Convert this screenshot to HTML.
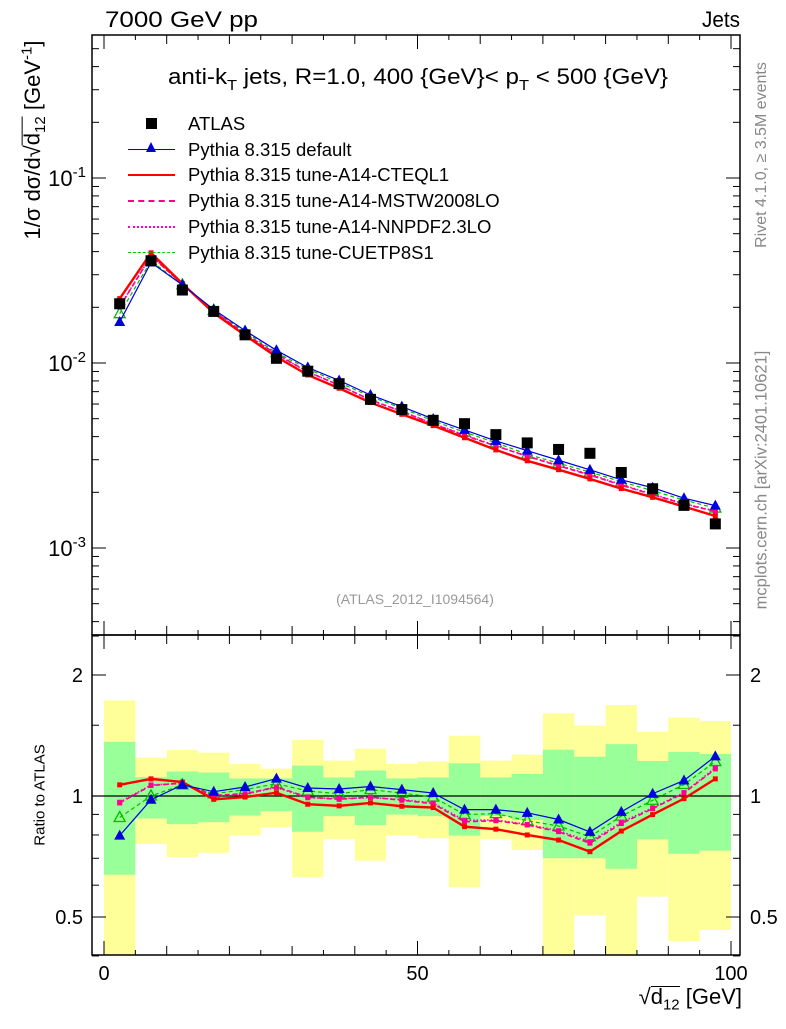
<!DOCTYPE html>
<html><head><meta charset="utf-8"><style>
body{margin:0;background:#fff;}
svg text{font-family:"Liberation Sans",sans-serif;}
</style></head><body>
<svg id="c" width="786" height="1024" xmlns="http://www.w3.org/2000/svg"></svg>
<script>
const binCenters=[2.5,7.5,12.5,17.5,22.5,27.5,32.5,37.5,42.5,47.5,52.5,57.5,62.5,67.5,72.5,77.5,82.5,87.5,92.5,97.5];
const atlas=[0.0209,0.0357,0.0248,0.0190,0.0142,0.0106,0.00903,0.00773,0.00636,0.00560,0.00490,0.00470,0.00410,0.00370,0.00341,0.00325,0.00256,0.00209,0.00170,0.00135];
const rDefault=[0.797,0.979,1.066,1.025,1.053,1.105,1.047,1.041,1.056,1.037,1.017,0.925,0.925,0.908,0.874,0.814,0.913,1.013,1.093,1.255];
const rCTEQ=[1.066,1.103,1.083,0.981,0.994,1.019,0.954,0.945,0.961,0.943,0.936,0.839,0.827,0.800,0.777,0.727,0.818,0.899,0.985,1.103];
const rMSTW=[0.961,1.062,1.077,1.004,1.013,1.053,0.994,0.981,0.994,0.976,0.957,0.863,0.868,0.847,0.815,0.763,0.854,0.930,1.017,1.168];
const rNNPDF=[0.965,1.065,1.075,1.0,1.01,1.05,0.99,0.985,0.99,0.98,0.96,0.87,0.872,0.85,0.82,0.77,0.86,0.935,1.02,1.175];
const rCUETP=[0.884,1.0,1.066,1.013,1.037,1.073,1.029,1.013,1.037,1.017,0.994,0.899,0.904,0.868,0.842,0.792,0.891,0.976,1.068,1.218];
const yelHi=[1.729,1.246,1.301,1.282,1.202,1.170,1.380,1.225,1.311,1.202,1.218,1.412,1.225,1.267,1.606,1.497,1.684,1.444,1.567,1.537];
const yelLo=[0.3,0.760,0.704,0.722,0.797,0.837,0.628,0.782,0.690,0.800,0.785,0.593,0.782,0.734,0.3,0.505,0.3,0.562,0.436,0.464];
const grnHi=[1.364,1.114,1.151,1.144,1.106,1.106,1.190,1.112,1.157,1.106,1.112,1.206,1.112,1.135,1.304,1.253,1.346,1.222,1.287,1.272];
const grnLo=[0.637,0.879,0.851,0.861,0.894,0.917,0.815,0.891,0.847,0.899,0.891,0.797,0.891,0.871,0.700,0.700,0.659,0.780,0.718,0.731];
const binHalf=2.5;

const NS="http://www.w3.org/2000/svg";
const svg=document.getElementById('c');
function mk(tag,attrs,parent){const e=document.createElementNS(NS,tag);for(const k in attrs)e.setAttribute(k,attrs[k]);(parent||svg).appendChild(e);return e;}
const L=92,R=740,T=35,M=635,B=955;
const X=v=>104+(731-104)*v/100;
const Y=v=>178-(Math.log10(v)+1)*185;
const YR=r=>796-Math.log2(r)*121;
const cl=(v,a,b)=>Math.max(a,Math.min(b,v));

const gb=mk('g',{});


binCenters.forEach((c,i)=>{
  const x0=X(c-binHalf),x1=X(c+binHalf);
  const y1=cl(YR(yelHi[i]),M,B),y2=cl(YR(yelLo[i]),M,B);
  const r=mk('rect',{x:x0,y:y1,width:x1-x0,height:y2-y1,fill:'#ffff99'},gb);
  
  
});
binCenters.forEach((c,i)=>{
  const x0=X(c-binHalf),x1=X(c+binHalf);
  const y1=cl(YR(grnHi[i]),M,B),y2=cl(YR(grnLo[i]),M,B);
  const r=mk('rect',{x:x0,y:y1,width:x1-x0,height:y2-y1,fill:'#99ff99'},gb);
  
  
});
mk('line',{x1:L,x2:R,y1:YR(1),y2:YR(1),stroke:'#000','stroke-width':1.2});

const series=[
 {n:'cuetp8s1',r:rCUETP,c:'#00bb00',w:1.2,d:'4,3',m:'otri'},
 {n:'nnpdf',r:rNNPDF,c:'#ff00cc',w:1.6,d:'1.5,2',m:'sq'},
 {n:'mstw',r:rMSTW,c:'#ff0088',w:1.6,d:'5,3',m:'sq'},
 {n:'cteql1',r:rCTEQ,c:'#ff0000',w:2.4,d:'',m:'sq'},
 {n:'default',r:rDefault,c:'#0000dd',w:1.2,d:'',m:'tri'}
];
function marker(g,type,x,y,c,name){
  let e;
  if(type==='tri') e=mk('polygon',{points:`${x},${y-6} ${x-5.5},${y+4} ${x+5.5},${y+4}`,fill:c},g);
  else if(type==='otri') e=mk('polygon',{points:`${x},${y-6} ${x-5.5},${y+4} ${x+5.5},${y+4}`,fill:'none',stroke:c,'stroke-width':1.3},g);
  else e=mk('rect',{x:x-2.5,y:y-2.5,width:5,height:5,fill:c},g);
  
  
}
function drawSeries(s,panel){
  const g=mk('g',{});
  
  
  const pts=binCenters.map((c,i)=>[X(c),panel==='main'?Y(atlas[i]*s.r[i]):YR(s.r[i])]);
  mk('polyline',{points:pts.map(p=>p.join(',')).join(' '),fill:'none',stroke:s.c,'stroke-width':s.w,'stroke-dasharray':s.d},g);
  pts.forEach(p=>marker(g,s.m,p[0],p[1],s.c,'point-'+s.n));
}
series.forEach(s=>drawSeries(s,'ratio'));
series.forEach(s=>drawSeries(s,'main'));
const ga=mk('g',{});


binCenters.forEach((c,i)=>{
  const e=mk('rect',{x:X(c)-5.5,y:Y(atlas[i])-5.5,width:11,height:11,fill:'#000'},ga);
  
  
});

mk('rect',{x:L,y:T,width:R-L,height:M-T,fill:'none',stroke:'#000','stroke-width':1.5});
mk('rect',{x:L,y:M,width:R-L,height:B-M,fill:'none',stroke:'#000','stroke-width':1.5});
for(let v=0;v<=100;v+=5){
  const len=v%50===0?14:(v%10===0?9:5);
  const x=X(v);
  [[T,1],[M,-1],[M,1],[B,-1]].forEach(([y,d])=>mk('line',{x1:x,x2:x,y1:y,y2:y+d*len,stroke:'#000','stroke-width':1}));
}
for(let e=-4;e<=0;e++){for(let k=1;k<10;k++){const v=k*Math.pow(10,e);const y=Y(v);if(y<T||y>M)continue;const len=k===1?14:7;
 mk('line',{x1:L,x2:L+len,y1:y,y2:y,stroke:'#000'});mk('line',{x1:R,x2:R-len,y1:y,y2:y,stroke:'#000'});}}
[0.4,0.5,0.6,0.7,0.8,0.9,1,1.5,2,2.5].forEach(v=>{const y=YR(v);const len=(v===0.5||v===1||v===2)?14:7;
 mk('line',{x1:L,x2:L+len,y1:y,y2:y,stroke:'#000'});mk('line',{x1:R,x2:R-len,y1:y,y2:y,stroke:'#000'});});
function txt(s,x,y,a,attrs){const e=mk('text',Object.assign({x:x,y:y,'text-anchor':a||'start','font-size':20},attrs||{}));e.innerHTML=s;return e;}
[[0.1,'-1'],[0.01,'-2'],[0.001,'-3']].forEach(([v,ex])=>{const t=txt(`10<tspan dy="-9" font-size="15">${ex}</tspan>`,86,Y(v)+8,'end',{'font-size':22});});
[[2,'2'],[1,'1'],[0.5,'0.5']].forEach(([v,s])=>{txt(s,83,YR(v)+7,'end');txt(s,750,YR(v)+7,'start');});
[[0,'0'],[50,'50'],[100,'100']].forEach(([v,s])=>txt(s,X(v),980,'middle'));
const t1=txt('7000 GeV pp',105,27,'start',{'font-size':22,textLength:153,lengthAdjust:'spacingAndGlyphs'});


const t2=txt('Jets',740,27,'end',{'font-size':22,textLength:38,lengthAdjust:'spacingAndGlyphs'});


const t3=txt('anti-k<tspan dy="6" font-size="15">T</tspan><tspan dy="-6"> jets, R=1.0, 400 {GeV}&lt; p</tspan><tspan dy="6" font-size="15">T</tspan><tspan dy="-6"> &lt; 500 {GeV}</tspan>',168,84,'start',{'font-size':22,textLength:500,lengthAdjust:'spacingAndGlyphs'});


</script>
<div style="position:absolute;left:0;top:0;width:786px;height:1024px;font-family:'Liberation Sans',sans-serif;pointer-events:none">
<div style="position:absolute;left:128px;top:111px;font-size:18.5px;line-height:25.7px">
<div style="position:relative;padding-left:60px;white-space:nowrap"><span style="position:absolute;left:18px;top:7px;width:11px;height:11px;background:#000"></span>ATLAS</div>
<div style="position:relative;padding-left:60px;white-space:nowrap"><span style="position:absolute;left:0;top:12px;width:47px;border-top:1.2px solid #00d"></span><span style="position:absolute;left:18px;top:5px;width:0;height:0;border-left:5.5px solid transparent;border-right:5.5px solid transparent;border-bottom:10px solid #00d"></span>Pythia 8.315 default</div>
<div style="position:relative;padding-left:60px;white-space:nowrap"><span style="position:absolute;left:0;top:12px;width:47px;border-top:2.4px solid #f00"></span>Pythia 8.315 tune-A14-CTEQL1</div>
<div style="position:relative;padding-left:60px;white-space:nowrap"><span style="position:absolute;left:0;top:12px;width:47px;border-top:2px dashed #ff0088"></span>Pythia 8.315 tune-A14-MSTW2008LO</div>
<div style="position:relative;padding-left:60px;white-space:nowrap"><span style="position:absolute;left:0;top:12px;width:47px;border-top:2px dotted #ff00cc"></span>Pythia 8.315 tune-A14-NNPDF2.3LO</div>
<div style="position:relative;padding-left:60px;white-space:nowrap"><span style="position:absolute;left:0;top:12px;width:47px;border-top:1.5px dashed #00cc00"></span>Pythia 8.315 tune-CUETP8S1</div>
</div>
<div style="position:absolute;left:0;width:830px;text-align:center;top:591px;font-size:14px;color:#999">(ATLAS_2012_I1094564)</div>
<div style="position:absolute;left:35px;top:140px;transform:translate(-50%,-50%) rotate(-90deg);font-size:22px;white-space:nowrap">1/σ dσ/d√<span style="display:inline-block;border-top:1.5px solid #000;line-height:20px">d<sub style="font-size:15px">12</sub></span> [GeV<sup style="font-size:15px">-1</sup>]</div>
<div style="position:absolute;left:40px;top:795px;transform:translate(-50%,-50%) rotate(-90deg);font-size:15px;white-space:nowrap">Ratio to ATLAS</div>
<div style="position:absolute;left:762px;top:155px;transform:translate(-50%,-50%) rotate(-90deg);font-size:16px;color:#888;white-space:nowrap">Rivet 4.1.0, ≥ 3.5M events</div>
<div style="position:absolute;left:762px;top:480px;transform:translate(-50%,-50%) rotate(-90deg);font-size:16.5px;color:#888;white-space:nowrap">mcplots.cern.ch [arXiv:2401.10621]</div>
<div style="position:absolute;right:44px;top:984px;font-size:22px;white-space:nowrap">√<span style="display:inline-block;border-top:1.5px solid #000;line-height:20px">d<sub style="font-size:15px">12</sub></span> [GeV]</div>
</div>
</body></html>
